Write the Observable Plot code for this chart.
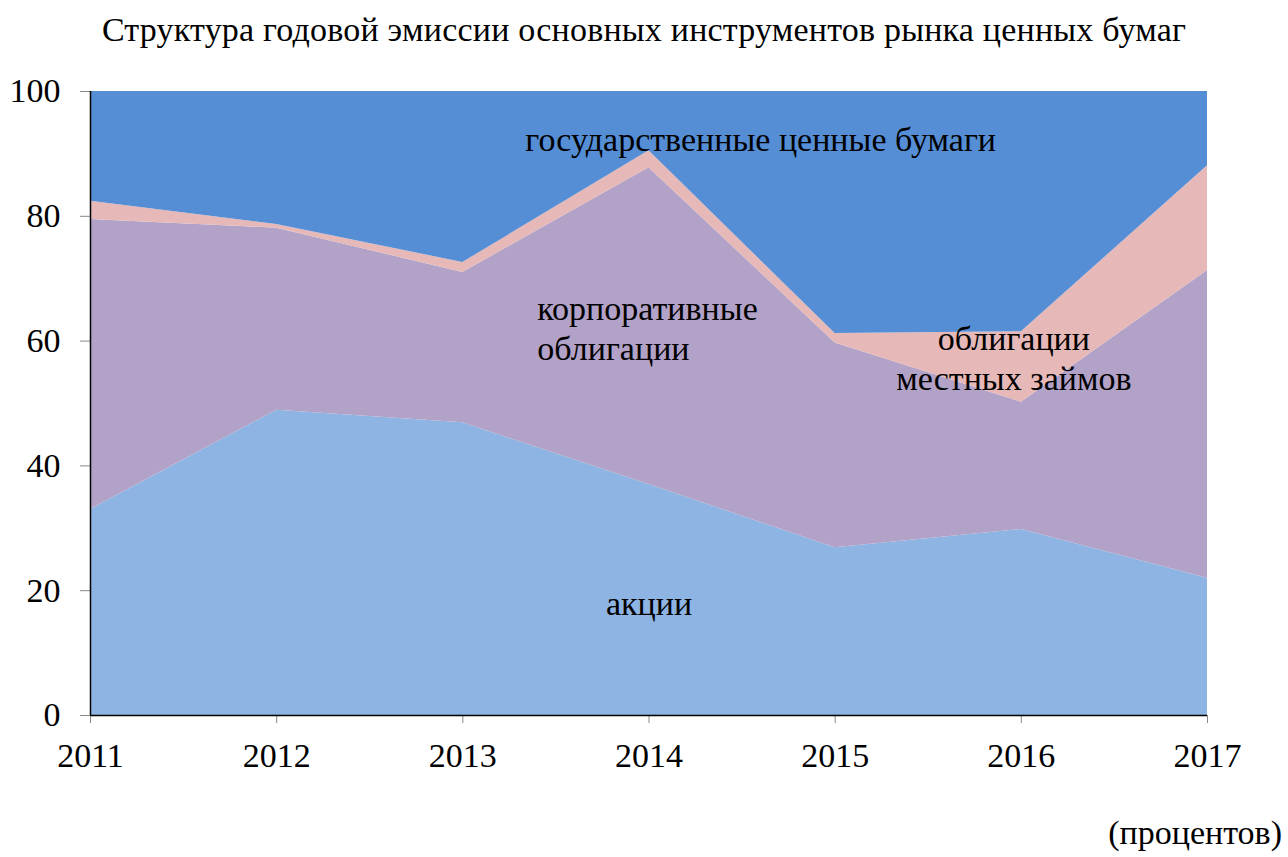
<!DOCTYPE html>
<html>
<head>
<meta charset="utf-8">
<script src="https://cdn.jsdelivr.net/npm/d3@7"></script>
<script src="https://cdn.jsdelivr.net/npm/@observablehq/plot@0.6"></script>
<style>
  html, body { margin: 0; padding: 0; background: #fff; }
  body { width: 1288px; height: 857px; overflow: hidden; font-family: 'Liberation Serif', 'Tinos', 'DejaVu Serif', serif; color: #000; }
  #title { height: 60px; line-height: 60px; text-align: center; font-size: 34px; white-space: nowrap; letter-spacing: 0.2px; }
  #caption { height: 67px; text-align: right; font-size: 34px; padding-right: 6px; line-height: 86px; }
  svg { display: block; }
</style>
</head>
<body>
<div id="title">Структура годовой эмиссии основных инструментов рынка ценных бумаг</div>
<div id="chart"></div>
<div id="caption">(процентов)</div>
<script>
// Data (percent shares)
const years = [2011, 2012, 2013, 2014, 2015, 2016, 2017];
const seriesNames = ["акции", "корпоративные облигации", "облигации местных займов", "государственные ценные бумаги"];
const akcii       = [33.0, 48.9, 46.9, 37.0, 26.9, 29.8, 22.0];
const korporativ  = [46.5, 29.2, 24.1, 50.8, 32.8, 20.4, 49.3];
const mestnye     = [2.9, 0.6, 1.6, 2.7, 1.5, 11.3, 16.8];
const gosudarstv  = [17.6, 21.3, 27.4, 9.5, 38.8, 38.5, 11.9];
const seriesColors = ["#8EB4E3", "#B3A2C7", "#E6B9B8", "#558ED5"];
const yTicks = [0, 20, 40, 60, 80, 100];

const seriesValues = [akcii, korporativ, mestnye, gosudarstv];
const rows = [];
seriesNames.forEach((name, i) => {
  years.forEach((yr, j) => rows.push({ year: yr, series: name, value: seriesValues[i][j] }));
});

// In-chart labels (data coordinates)
const labels = [
  { x: 2014.60, y: 92.5, text: "государственные ценные бумаги", anchor: "middle" },
  { x: 2013.40, y: 62.2, text: "корпоративные\nоблигации", anchor: "start" },
  { x: 2015.96, y: 57.4, text: "облигации\nместных займов", anchor: "middle" },
  { x: 2014.00, y: 18.1, text: "акции", anchor: "middle" }
];

const FONT = "'Liberation Serif', 'Tinos', 'DejaVu Serif', serif";
const chart = Plot.plot({
  width: 1288,
  height: 730,
  marginLeft: 90,
  marginRight: 81,
  marginTop: 31,
  marginBottom: 75,
  style: { fontFamily: FONT, fontSize: "34px", color: "#000", background: "#fff" },
  x: { domain: [2011, 2017], ticks: years, tickFormat: "d", label: null },
  y: { domain: [0, 100], ticks: yTicks, label: null },
  color: { domain: seriesNames, range: seriesColors },
  marks: [
    Plot.areaY(rows, { x: "year", y: "value", fill: "series", z: "series" }),
    Plot.axisX({ ticks: years, tickFormat: "d", tickSize: 8, tickPadding: 19, stroke: "#888", fill: "#000", fontSize: 34, label: null }),
    Plot.axisY({ ticks: yTicks, tickSize: 10, tickPadding: 20, stroke: "#888", fill: "#000", fontSize: 34, label: null }),
    Plot.ruleX([2011], { stroke: "#000", strokeWidth: 1.5 }),
    Plot.ruleY([0], { stroke: "#000", strokeWidth: 1.5 }),
    Plot.text(labels.filter(d => d.anchor === "middle"), { x: "x", y: "y", text: "text", textAnchor: "middle", fontSize: 34, lineHeight: 1.18, fill: "#000" }),
    Plot.text(labels.filter(d => d.anchor === "start"), { x: "x", y: "y", text: "text", textAnchor: "start", fontSize: 34, lineHeight: 1.18, fill: "#000" })
  ]
});
document.getElementById("chart").appendChild(chart);
</script>
</body>
</html>
